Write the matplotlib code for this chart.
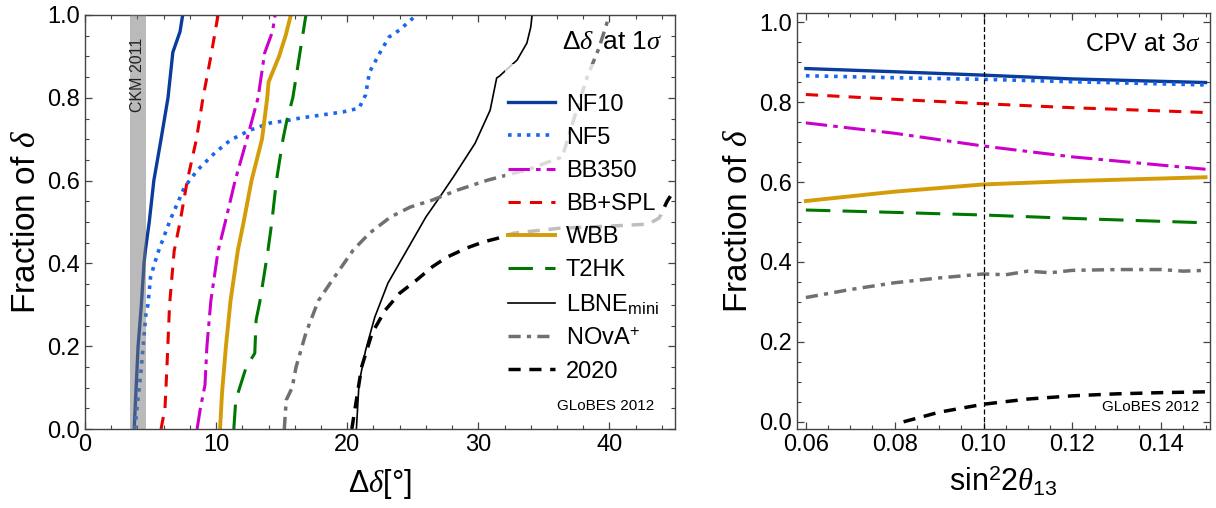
import matplotlib
matplotlib.use("Agg")
import matplotlib.pyplot as plt
from matplotlib.patches import Rectangle
from matplotlib.ticker import MultipleLocator

plt.rcParams['font.family'] = ['Liberation Sans', 'DejaVu Sans']
plt.rcParams['mathtext.fontset'] = 'custom'
plt.rcParams['mathtext.rm'] = 'Liberation Sans'
plt.rcParams['mathtext.it'] = 'Liberation Serif:italic'
plt.rcParams['mathtext.bf'] = 'Liberation Sans:bold'

# ---- left panel: precision on delta at 1 sigma (x = degrees, y = fraction) ----
nf10_y = [0, 0.1, 0.2, 0.3, 0.4, 0.43, 0.5, 0.6, 0.7, 0.8, 0.91, 0.96, 1.0]
nf10_x = [3.75, 3.9, 4.05, 4.3, 4.5, 4.6, 4.9, 5.25, 5.8, 6.33, 6.7, 7.25, 7.45]

nf5_y = [0, 0.15, 0.28, 0.30, 0.367, 0.425, 0.505, 0.585, 0.626, 0.667, 0.698, 0.722, 0.739,
         0.746, 0.751, 0.766, 0.775, 0.807, 0.862, 0.915, 0.947, 0.964, 0.995]
nf5_x = [3.8, 4.3, 4.65, 4.8, 5.0, 5.55, 6.5, 7.6, 8.6, 9.9, 11.1, 12.6, 14.1,
         15.6, 16.4, 19.7, 20.9, 21.4, 21.7, 22.6, 23.2, 24.0, 25.1]

bb350_y = [0, 0.05, 0.106, 0.2, 0.31, 0.43, 0.5, 0.6, 0.7, 0.8, 0.908, 0.96, 1.0]
bb350_x = [8.55, 8.8, 9.15, 9.3, 9.6, 10.15, 10.7, 11.45, 12.35, 13.2, 13.7, 14.3, 14.5]

bbspl_y = [0, 0.05, 0.15, 0.3, 0.43, 0.5, 0.6, 0.7, 0.8, 0.9, 1.0]
bbspl_x = [5.8, 6.1, 6.25, 6.45, 6.8, 7.25, 7.8, 8.5, 9.0, 9.6, 10.15]

wbb_y = [0, 0.087, 0.2, 0.31, 0.43, 0.5, 0.6, 0.7, 0.8, 0.838, 0.9, 0.95, 1.0]
wbb_x = [10.3, 10.45, 10.75, 11.1, 11.65, 12.1, 12.7, 13.5, 13.9, 14.0, 14.8, 15.3, 15.7]

t2hk_y = [0, 0.07, 0.15, 0.183, 0.263, 0.31, 0.43, 0.5, 0.6, 0.7, 0.746, 0.8, 0.94, 1.0]
t2hk_x = [11.35, 11.5, 12.3, 12.95, 13.05, 13.35, 13.95, 14.25, 14.6, 15.1, 15.4, 15.85, 16.55, 16.85]

lbne_y = [0, 0.11, 0.19, 0.27, 0.352, 0.432, 0.512, 0.553, 0.609, 0.69, 0.77, 0.848,
          0.852, 0.891, 0.932, 0.971, 1.0]
lbne_x = [20.7, 20.9, 21.4, 22.1, 23.1, 24.55, 26.0, 26.9, 28.1, 29.75, 30.9, 31.4,
          31.6, 32.95, 33.7, 34.0, 34.1]

nova_y = [0, 0.07, 0.10, 0.15, 0.232, 0.31, 0.352, 0.432, 0.473, 0.512, 0.536, 0.553,
          0.577, 0.601, 0.626, 0.657, 0.75, 0.85, 0.92, 1.0]
nova_x = [15.2, 15.35, 15.8, 16.1, 16.85, 17.8, 18.7, 20.45, 21.7, 23.3, 24.8, 26.5,
          28.4, 30.7, 33.7, 36.4, 37.3, 38.3, 39.2, 40.0]

y2020_y = [0, 0.07, 0.15, 0.232, 0.287, 0.328, 0.36, 0.392, 0.415, 0.437, 0.452, 0.46,
           0.473, 0.485, 0.49, 0.495, 0.51, 0.55, 0.58]
y2020_x = [20.35, 20.7, 21.1, 21.9, 22.9, 24.0, 25.3, 26.5, 27.6, 29.1, 30.4, 31.4,
           32.7, 36.2, 40.0, 43.0, 43.8, 44.4, 45.0]

ckm_band = (3.43, 4.65)

# ---- right panel: CP violation at 3 sigma vs sin^2 2theta13 ----
s13 = [0.06, 0.08, 0.10, 0.12, 0.15]
cpv_nf10 = [0.884, 0.876, 0.8675, 0.858, 0.849]
cpv_nf5 = [0.866, 0.861, 0.857, 0.851, 0.843]
cpv_bbspl = [0.819, 0.807, 0.796, 0.786, 0.774]
cpv_bb350 = [0.748, 0.722, 0.69, 0.663, 0.632]
cpv_wbb = [0.5525, 0.576, 0.594, 0.6025, 0.612]
cpv_t2hk = [0.53, 0.524, 0.5175, 0.509, 0.498]

s13_nova = [0.06, 0.07, 0.08, 0.09, 0.10, 0.105, 0.11, 0.115, 0.12, 0.13, 0.14, 0.145, 0.15]
cpv_nova = [0.311, 0.331, 0.348, 0.360, 0.370, 0.368, 0.377, 0.373, 0.379, 0.381, 0.381, 0.377, 0.379]

s13_2020 = [0.082, 0.09, 0.10, 0.11, 0.12, 0.13, 0.14, 0.15]
cpv_2020 = [0.0, 0.024, 0.044, 0.057, 0.065, 0.07, 0.073, 0.075]

s13_true = 0.10

styles = {
    'NF10': dict(color='#0a3c9c', lw=2.4, ls='-'),
    'NF5': dict(color='#1a66ee', lw=2.6, ls=(0, (1, 1.6))),
    'BB350': dict(color='#cc00cc', lw=2.2, ls=(0, (7, 2, 1.5, 2))),
    'BB+SPL': dict(color='#e60000', lw=2.2, ls=(0, (4, 3))),
    'WBB': dict(color='#d49c08', lw=2.8, ls='-'),
    'T2HK': dict(color='#007800', lw=2.2, ls=(0, (8, 4))),
    'LBNE': dict(color='black', lw=1.2, ls='-'),
    'NOvA': dict(color='#707070', lw=2.5, ls=(0, (3.5, 1.8, 1.2, 1.8))),
    '2020': dict(color='black', lw=2.5, ls=(0, (3.5, 2.5))),
}

fig = plt.figure(figsize=(12.16, 5.08), dpi=100)
ax1 = fig.add_axes([85 / 1216, 79 / 508, 590 / 1216, 414 / 508])
ax2 = fig.add_axes([797 / 1216, 79 / 508, 413 / 1216, 416 / 508])

ax1.plot(nf10_x, nf10_y, label='NF10', **styles['NF10'])
ax1.plot(nf5_x, nf5_y, label='NF5', **styles['NF5'])
ax1.plot(bb350_x, bb350_y, label='BB350', **styles['BB350'])
ax1.plot(bbspl_x, bbspl_y, label='BB+SPL', **styles['BB+SPL'])
ax1.plot(wbb_x, wbb_y, label='WBB', **styles['WBB'])
ax1.plot(t2hk_x, t2hk_y, label='T2HK', **styles['T2HK'])
ax1.plot(lbne_x, lbne_y, label=r'LBNE$_{\rm mini}$', **styles['LBNE'])
ax1.plot(nova_x, nova_y, label=r'NOvA$^{+}$', **styles['NOvA'])
ax1.plot(y2020_x, y2020_y, label='2020', **styles['2020'])

ax1.axvspan(*ckm_band, color='#777777', alpha=0.5, lw=0, zorder=3)
ax1.text(sum(ckm_band) / 2, 0.945, 'CKM 2011', rotation=90, ha='center', va='top',
         fontsize=11.5, color='#222222', zorder=6)

# half-transparent backing of the legend, as in the original
ax1.add_patch(Rectangle((0.712, 0.106), 0.266, 0.776, transform=ax1.transAxes,
                        facecolor='white', alpha=0.75, lw=0, zorder=4))
leg = ax1.legend(loc='upper left', bbox_to_anchor=(0.717, 0.81), frameon=False,
                 fontsize=17, handlelength=2.0, handletextpad=0.45, labelspacing=0.47,
                 borderpad=0, borderaxespad=0)
leg.set_zorder(5)
ax1.text(0.978, 0.935, r'$\Delta\delta\,$ at 1$\sigma$', transform=ax1.transAxes,
         ha='right', va='center', fontsize=19, zorder=6)
ax1.text(0.965, 0.055, 'GLoBES 2012', transform=ax1.transAxes, ha='right',
         va='center', fontsize=11, zorder=6)

ax1.set_xlim(0, 45)
ax1.set_ylim(0, 1)
ax1.xaxis.set_major_locator(MultipleLocator(10))
ax1.xaxis.set_minor_locator(MultipleLocator(2))
ax1.yaxis.set_major_locator(MultipleLocator(0.2))
ax1.yaxis.set_minor_locator(MultipleLocator(0.05))
ax1.set_xlabel(r'$\Delta\delta$[°]', fontsize=22, labelpad=8)
ax1.set_ylabel(r'Fraction of $\delta$', fontsize=24, labelpad=4)

ax2.plot(s13, cpv_nf10, **styles['NF10'])
ax2.plot(s13, cpv_nf5, **styles['NF5'])
ax2.plot(s13, cpv_bbspl, **styles['BB+SPL'])
ax2.plot(s13, cpv_bb350, **styles['BB350'])
ax2.plot(s13, cpv_wbb, **styles['WBB'])
ax2.plot(s13, cpv_t2hk, **styles['T2HK'])
ax2.plot(s13_nova, cpv_nova, **styles['NOvA'])
ax2.plot(s13_2020, cpv_2020, **styles['2020'])
ax2.axvline(s13_true, color='black', lw=0.9, ls=(0, (4, 2)))
ax2.text(0.975, 0.925, r'CPV at 3$\sigma$', transform=ax2.transAxes, ha='right',
         va='center', fontsize=18)
ax2.text(0.975, 0.053, 'GLoBES 2012', transform=ax2.transAxes, ha='right',
         va='center', fontsize=11)

ax2.set_xlim(0.058, 0.151)
ax2.set_ylim(-0.018, 1.023)
ax2.xaxis.set_major_locator(MultipleLocator(0.02))
ax2.xaxis.set_minor_locator(MultipleLocator(0.005))
ax2.yaxis.set_major_locator(MultipleLocator(0.2))
ax2.yaxis.set_minor_locator(MultipleLocator(0.05))
ax2.set_xlabel(r'sin$^2$2$\theta_{13}$', fontsize=22, labelpad=6)
ax2.set_ylabel(r'Fraction of $\delta$', fontsize=24, labelpad=4)

for ax in (ax1, ax2):
    ax.tick_params(which='both', direction='in', top=True, right=True,
                   labelsize=17, color='#444444')
    ax.tick_params(which='major', length=5, width=0.9)
    ax.tick_params(which='minor', length=3, width=0.8)
    for sp in ax.spines.values():
        sp.set_color('#444444')
        sp.set_linewidth(1.0)

fig.savefig('out.png', dpi=100)
